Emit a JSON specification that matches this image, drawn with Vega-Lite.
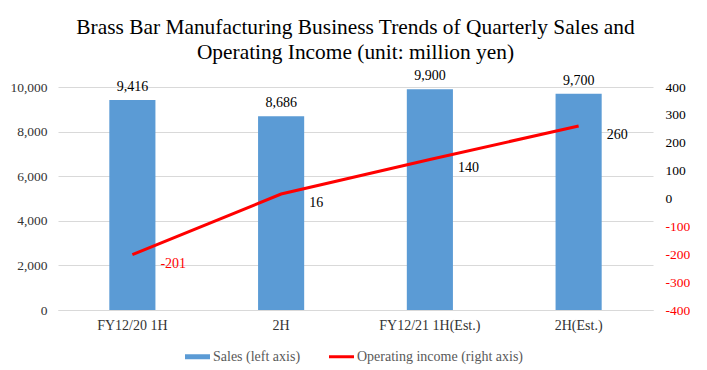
{
  "$schema": "https://vega.github.io/schema/vega-lite/v6.json",
  "width": 595,
  "height": 223,
  "autosize": {"type": "none"},
  "padding": {"left": 58, "top": 87, "right": 54, "bottom": 60},
  "background": "white",
  "title": {
    "text": ["Brass Bar Manufacturing Business Trends of Quarterly Sales and", "Operating Income (unit: million yen)"],
    "font": "Liberation Serif",
    "fontSize": 21.4,
    "fontWeight": "normal",
    "color": "#000000",
    "anchor": "middle",
    "frame": "group",
    "offset": 6,
    "lineHeight": 25
  },
  "config": {
    "view": {"stroke": null},
    "font": "Liberation Serif"
  },
  "data": {
    "values": [
      {"period": "FY12/20 1H", "sales": 9416, "income": -201},
      {"period": "2H", "sales": 8686, "income": 16},
      {"period": "FY12/21 1H(Est.)", "sales": 9900, "income": 140},
      {"period": "2H(Est.)", "sales": 9700, "income": 260}
    ]
  },
  "encoding": {
    "x": {
      "field": "period",
      "type": "nominal",
      "sort": null,
      "scale": {"paddingInner": 0.69, "paddingOuter": 0.345},
      "axis": {
        "title": null,
        "labelAngle": 0,
        "ticks": false,
        "domainColor": "#D9D9D9",
        "labelFont": "Liberation Serif",
        "labelFontSize": 14,
        "labelColor": "#333333",
        "labelPadding": 8
      }
    }
  },
  "layer": [
    {
      "encoding": {
        "y": {
          "field": "sales",
          "type": "quantitative",
          "scale": {"domain": [0, 10000]},
          "axis": {
            "title": null,
            "values": [0, 2000, 4000, 6000, 8000, 10000],
            "labelExpr": "format(datum.value, ',')",
            "labelOverlap": false,
            "domain": false,
            "ticks": false,
            "gridColor": "#D9D9D9",
            "labelFont": "Liberation Serif",
            "labelFontSize": 13.5,
            "labelColor": "#333333",
            "labelPadding": 11
          }
        }
      },
      "layer": [
        {
          "mark": {"type": "bar", "color": "#5B9BD5"},
          "encoding": {
            "color": {
              "datum": "Sales (left axis)",
              "type": "nominal",
              "scale": {
                "domain": ["Sales (left axis)", "Operating income (right axis)"],
                "range": ["#5B9BD5", "#FF0000"]
              },
              "legend": {
                "title": null,
                "orient": "none",
                "legendX": 127,
                "legendY": 257,
                "direction": "horizontal",
                "symbolSize": 625,
                "labelFont": "Liberation Serif",
                "labelFontSize": 14,
                "labelColor": "#595959",
                "labelOffset": 3,
                "labelLimit": 0,
                "columnPadding": 28,
                "encode": {
                  "symbols": {
                    "update": {
                      "shape": {"signal": "datum.value == 'Sales (left axis)' ? 'M-1,-0.2H1V0.2H-1Z' : 'M-1,-0.12H1V0.12H-1Z'"},
                      "fill": {"signal": "datum.value == 'Sales (left axis)' ? '#5B9BD5' : '#FF0000'"},
                      "stroke": {"value": "transparent"},
                      "strokeWidth": {"value": 0},
                      "opacity": {"value": 1},
                      "fillOpacity": {"value": 1}
                    }
                  }
                }
              }
            }
          }
        },
        {
          "mark": {"type": "text", "dy": -6, "baseline": "bottom", "fontSize": 14, "font": "Liberation Serif", "color": "#000000"},
          "encoding": {
            "text": {"field": "sales", "type": "quantitative", "format": ","}
          }
        }
      ]
    },
    {
      "encoding": {
        "y": {
          "field": "income",
          "type": "quantitative",
          "scale": {"domain": [-400, 400]},
          "axis": {
            "title": null,
            "orient": "right",
            "values": [-400, -300, -200, -100, 0, 100, 200, 300, 400],
            "labelExpr": "'' + datum.value",
            "labelOverlap": false,
            "grid": false,
            "domain": false,
            "ticks": false,
            "labelFont": "Liberation Serif",
            "labelFontSize": 13.5,
            "labelColor": {"condition": {"test": "datum.value < 0", "value": "#FF0000"}, "value": "#000000"},
            "labelPadding": 12
          }
        }
      },
      "layer": [
        {
          "mark": {"type": "line", "strokeWidth": 3},
          "encoding": {
            "color": {"datum": "Operating income (right axis)", "type": "nominal"}
          }
        },
        {
          "mark": {"type": "text", "align": "left", "dx": 28, "dy": 9, "fontSize": 14, "font": "Liberation Serif"},
          "encoding": {
            "text": {"field": "income", "type": "nominal"},
            "color": {"condition": {"test": "datum.income < 0", "value": "#FF0000"}, "value": "#000000"}
          }
        }
      ]
    }
  ],
  "resolve": {"scale": {"y": "independent"}}
}
